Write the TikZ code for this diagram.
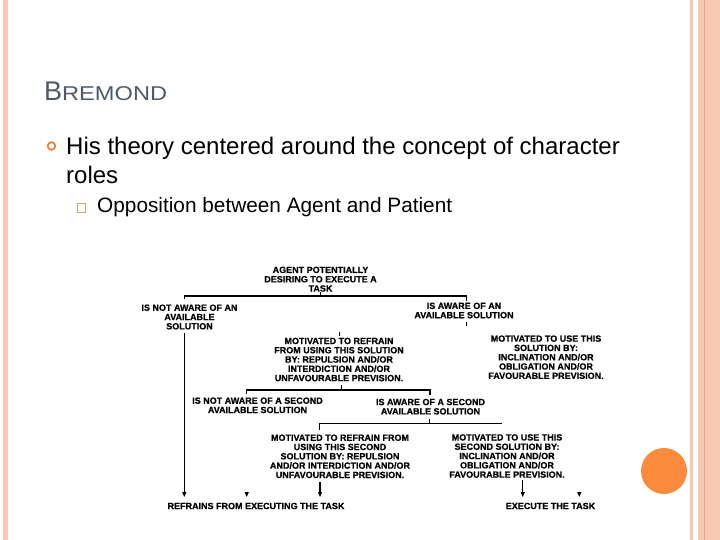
\documentclass[tikz,border=0pt]{standalone}
\usepackage{fontspec}
\setmainfont{Liberation Sans}
\newfontfamily\diagfont[BoldFeatures={FakeBold=0.6}]{Liberation Sans}
\usetikzlibrary{arrows.meta}
\definecolor{pinkstrip}{HTML}{F9C8B4}
\definecolor{darkstrip}{HTML}{E8A486}
\definecolor{orangec}{HTML}{FB8A3C}
\definecolor{ringc}{HTML}{E8883A}
\definecolor{squarec}{HTML}{D2A36B}
\definecolor{titlec}{HTML}{505A66}
\tikzset{
  dtext/.style={font=\diagfont\bfseries\fontsize{9}{9.3}\selectfont, align=center, inner sep=0pt},
  conn/.style={line width=1.1pt, black},
  arr/.style={conn, -{Triangle[length=5pt,width=4pt]}},
  bodytext/.style={anchor=base west, inner sep=0pt, font=\fontsize{24}{28}\selectfont},
  subtext/.style={anchor=base west, inner sep=0pt, font=\fontsize{20.8}{24}\selectfont}
}
\begin{document}
\begin{tikzpicture}[x=1pt,y=-1pt]
\useasboundingbox (0,0) rectangle (720,540);
\fill[white] (0,0) rectangle (720,540);
% borders
\fill[pinkstrip] (3,0) rectangle (8.3,540);
\fill[pinkstrip] (689.5,0) rectangle (693,540);
\fill[pinkstrip] (697.5,0) rectangle (720,540);
\fill[darkstrip] (703.8,0) rectangle (705,540);
\fill[orangec] (664,471) circle (23);
% title
\node[anchor=base west, inner sep=0pt, text=titlec] (title) at (44,101)
  {{\fontsize{27}{27}\selectfont B}\scalebox{1.18}[1]{\fontsize{20}{20}\selectfont REMOND}};
% bullets
\draw[ringc, line width=1.8pt] (51.5,146) circle (3.8);
\node[bodytext] (l1) at (66,155) {His theory centered around the concept of character};
\node[bodytext] (l2) at (66,184) {roles};
\draw[squarec, line width=0.9pt] (77,203) rectangle (85.5,212);
\node[subtext] (l3) at (97,213) {Opposition between Agent and Patient};
% diagram nodes
\node[dtext] (agent) at (320.5,279.2) {AGENT POTENTIALLY\\DESIRING TO EXECUTE A\\TASK};
\node[dtext] (notaware) at (189.5,317) {IS NOT AWARE OF AN\\AVAILABLE\\SOLUTION};
\node[dtext] (aware) at (464,310.5) {IS AWARE OF AN\\AVAILABLE SOLUTION};
\node[dtext] (refrain1) at (339,359.5) {MOTIVATED TO REFRAIN\\FROM USING THIS SOLUTION\\BY: REPULSION AND/OR\\INTERDICTION AND/OR\\UNFAVOURABLE PREVISION.};
\node[dtext] (use1) at (546,357.2) {MOTIVATED TO USE THIS\\SOLUTION BY:\\INCLINATION AND/OR\\OBLIGATION AND/OR\\FAVOURABLE PREVISION.};
\node[dtext] (notaware2) at (257.5,405.3) {IS NOT AWARE OF A SECOND\\AVAILABLE SOLUTION};
\node[dtext] (aware2) at (430.5,406.7) {IS AWARE OF A SECOND\\AVAILABLE SOLUTION};
\node[dtext] (refrain2) at (340,456.3) {MOTIVATED TO REFRAIN FROM\\USING THIS SECOND\\SOLUTION BY: REPULSION\\AND/OR INTERDICTION AND/OR\\UNFAVOURABLE PREVISION.};
\node[dtext] (use2) at (507,456) {MOTIVATED TO USE THIS\\SECOND SOLUTION BY:\\INCLINATION AND/OR\\OBLIGATION AND/OR\\FAVOURABLE PREVISION.};
\node[dtext] (refrains) at (256,506) {REFRAINS FROM EXECUTING THE TASK};
\node[dtext] (execute) at (550.5,506) {EXECUTE THE TASK};
% junction coordinates
\coordinate (h1L) at (184.3,296);
\coordinate (h1R) at (466.7,296);
\coordinate (d1L) at (184.3,298.5);
\coordinate (d1R) at (466.7,300.5);
\coordinate (v1top) at (184.3,333);
\coordinate (v1bot) at (184.3,497);
\coordinate (t2a) at (466.7,321.7);
\coordinate (t2b) at (466.7,325.5);
\coordinate (t3a) at (339.3,332.3);
\coordinate (t3b) at (339.3,335.5);
\coordinate (t4a) at (341.7,385);
\coordinate (h2M) at (341.7,390);
\coordinate (h2L) at (246.7,390);
\coordinate (h2R) at (430,390);
\coordinate (d2L) at (246.7,394);
\coordinate (d2R) at (430,394.5);
\coordinate (t5a) at (429.3,419);
\coordinate (h3M) at (429.3,423.3);
\coordinate (h3L) at (319.3,423.3);
\coordinate (h3R) at (501.7,423.3);
\coordinate (d3L) at (319.3,430);
\coordinate (a1top) at (320,482);
\coordinate (a1bot) at (320,497);
\coordinate (a2top) at (246.7,492);
\coordinate (a2bot) at (246.7,497);
\coordinate (a3top) at (522.7,480);
\coordinate (a3bot) at (522.7,497);
\coordinate (a4top) at (579.3,492);
\coordinate (a4bot) at (579.3,497);
% connectors
\draw[conn] (agent.south) -- (agent.south |- h1L);
\draw[conn] (d1L) -- (h1L) -- (h1R) -- (d1R);
\draw[arr] (v1top) -- (v1bot);
\draw[conn] (t2a) -- (t2b);
\draw[conn] (t3a) -- (t3b);
\draw[conn] (t4a) -- (h2M);
\draw[conn] (d2L) -- (h2L) -- (h2R) -- (d2R);
\draw[conn] (t5a) -- (h3M);
\draw[conn] (d3L) -- (h3L) -- (h3R);
\draw[arr] (a1top) -- (a1bot);
\draw[arr] (a2top) -- (a2bot);
\draw[arr] (a3top) -- (a3bot);
\draw[arr] (a4top) -- (a4bot);
\end{tikzpicture}
\end{document}
